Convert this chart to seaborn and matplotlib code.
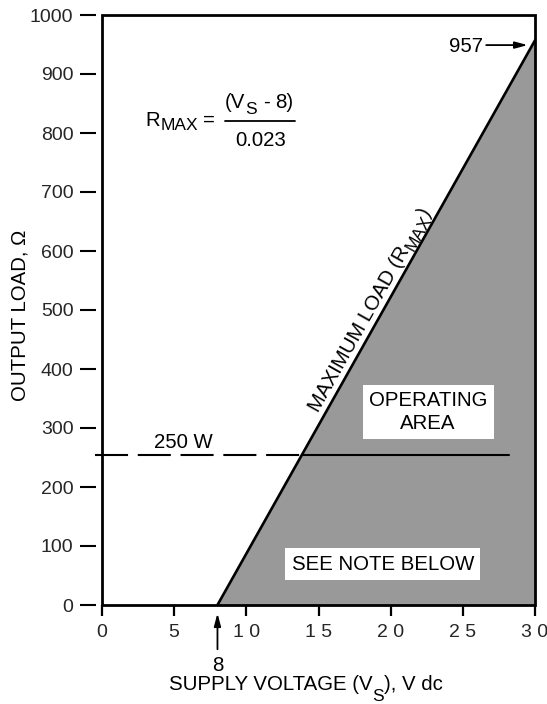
import math
import matplotlib
matplotlib.use("Agg")
import matplotlib.pyplot as plt
import matplotlib.transforms as mtransforms
from matplotlib.patches import Rectangle
from matplotlib.lines import Line2D
import pandas as pd
import seaborn as sns

# ---------------- data ----------------
supply_voltage = [8, 30]        # V dc, end points of the maximum-load line
max_load = [0, 957]             # ohm
power_level = 255               # level of the 250 W line (ohm axis)
power_line_x = [-0.5, 28.2]     # extent of the 250 W line (V)
x_ticks = [0, 5, 10, 15, 20, 25, 30]
x_tick_labels = ["0", "5", "1 0", "1 5", "2 0", "2 5", "3 0"]
y_ticks = [0, 100, 200, 300, 400, 500, 600, 700, 800, 900, 1000]
y_tick_labels = ["0", "100", "200", "300", "400", "500", "600", "700", "800", "900", "1000"]

# ---------------- style ----------------
sns.set_style("white")
plt.rcParams["font.family"] = ["Liberation Sans", "DejaVu Sans"]
plt.rcParams["lines.scale_dashes"] = False
plt.rcParams["text.color"] = "black"

FS = 14.7      # main text size
SUB = 12.5     # subscript size
W, H = 547, 704
fig = plt.figure(figsize=(W / 100, H / 100), dpi=100)
fig.patch.set_facecolor("white")
ax = fig.add_axes([102 / W, 1 - 605 / H, 433 / W, 590 / H])
ax.set_facecolor("white")

df = pd.DataFrame({"vs": supply_voltage, "r": max_load})
ax.fill_between(df["vs"], df["r"], 0, color="#999999", lw=0, zorder=1)
sns.lineplot(data=df, x="vs", y="r", color="black", lw=1.9, ax=ax, zorder=3)

ax.set_xlim(0, 30)
ax.set_ylim(0, 1000)
ax.set_xlabel("")
ax.set_ylabel("")

# 250 W line: dashed left of the max-load line, solid inside operating area
slope = (max_load[1] - max_load[0]) / (supply_voltage[1] - supply_voltage[0])
x_int = supply_voltage[0] + (power_level - max_load[0]) / slope
ax.plot([power_line_x[0], x_int], [power_level, power_level], color="black",
        lw=1.5, linestyle=(0, (23.8, 7.0)), clip_on=False, zorder=4)
ax.plot([x_int, power_line_x[1]], [power_level, power_level], color="black",
        lw=1.5, zorder=4)

# ticks
ax.set_xticks(x_ticks, x_tick_labels)
ax.set_yticks(y_ticks, y_tick_labels)
for s in ax.spines.values():
    s.set_visible(False)
ax.spines["left"].set_position(("outward", 4.3))
ax.tick_params(axis="y", direction="out", length=11.5, width=1.5, pad=4.8,
               labelsize=14, left=True, color="black")
ax.tick_params(axis="x", direction="out", length=8, width=1.6, pad=6,
               labelsize=14, bottom=True, color="black")
ax.add_patch(Rectangle((0, 0), 1, 1, transform=ax.transAxes, fill=False,
                       lw=2.0, ec="black", clip_on=False, zorder=6))

renderer = fig.canvas.get_renderer()
ident = mtransforms.IdentityTransform()


def text_width(s, fs):
    t = fig.text(0, 0, s, fontsize=fs)
    w = t.get_window_extent(renderer=renderer).width
    t.remove()
    return w


def px_text(x, y, s, fs, **kw):
    """x, y in pixels measured from the top-left corner of the figure."""
    return fig.text(x / W, 1 - y / H, s, fontsize=fs, va="baseline", **kw)


def rich(cx, cy, angle, pieces):
    """Centered run of text pieces (text, size, drop_px, gap_px) along a
    baseline through display point (cx, cy) at the given angle."""
    a = math.radians(angle)
    ux, uy = math.cos(a), math.sin(a)
    dx, dy = math.sin(a), -math.cos(a)          # 'down' perpendicular
    widths = [text_width(s, fs) + gap for s, fs, _, gap in pieces]
    total = sum(widths)
    adv = -total / 2
    for (s, fs, drop, gap), w in zip(pieces, widths):
        adv += gap
        x = cx + adv * ux + drop * dx
        y = cy + adv * uy + drop * dy
        fig.text(x, y, s, fontsize=fs, rotation=angle, rotation_mode="anchor",
                 ha="left", va="baseline", transform=ident)
        adv += w - gap


# 250 W label
ax.text(5.66, 265.6, "250 W", ha="center", va="baseline", fontsize=FS, zorder=5)

# R_MAX formula
px_text(145, 125.7, "R", FS)
px_text(161, 129.7, "MAX", SUB)
px_text(203, 125.7, "=", FS)
rich(258.7, H - 108, 0, [("(V", FS, 0, 0), ("S", SUB, 6, 1),
                         ("-", FS, 0, 6), ("8)", FS, 0, 5)])
fig.add_artist(Line2D([225 / W, 295 / W], [1 - 121.3 / H, 1 - 121.3 / H],
                      color="black", lw=1.3))
px_text(260.5, 146.3, "0.023", FS, ha="center")

# rotated MAXIMUM LOAD label
p0 = ax.transData.transform((supply_voltage[0], max_load[0]))
p1 = ax.transData.transform((supply_voltage[1], max_load[1]))
ang = math.degrees(math.atan2(p1[1] - p0[1], p1[0] - p0[0]))
off = 6
ya = 491
xa = supply_voltage[0] + ya / slope
pa = ax.transData.transform((xa, ya))
cx = pa[0] - off * math.sin(math.radians(ang))
cy = pa[1] + off * math.cos(math.radians(ang))
rich(cx, cy, ang, [("MAXIMUM LOAD (R", FS, 0, 0), ("MAX", SUB, 4, 0),
                   (")", FS, 0, 0)])

ax.text(22.6, 327, "OPERATING\nAREA", ha="center", va="center",
        multialignment="center", linespacing=1.3, fontsize=FS, zorder=5,
        bbox=dict(boxstyle="square,pad=0.3", fc="white", ec="none"))
ax.text(19.45, 60, "SEE NOTE BELOW", ha="center", va="baseline", fontsize=FS,
        zorder=5, bbox=dict(boxstyle="square,pad=0.3", fc="white", ec="none"))

arrow = dict(arrowstyle="-|>,head_length=0.75,head_width=0.2", color="black",
             lw=1.3, shrinkA=0, shrinkB=0)
ax.text(26.39, 937.8, str(max_load[1]), ha="right", va="baseline", fontsize=FS)
ax.annotate("", xy=(29.5, 949), xytext=(26.62, 949), arrowprops=arrow,
            annotation_clip=False)
ax.annotate("", xy=(supply_voltage[0], -14), xytext=(supply_voltage[0], -75),
            arrowprops=arrow, annotation_clip=False)
ax.text(supply_voltage[0], -111.4, str(supply_voltage[0]), ha="center",
        va="baseline", fontsize=FS, clip_on=False)

# axis titles
fig.text(20 / W, 1 - 315 / H, "OUTPUT LOAD, \u03A9", rotation=90, ha="center",
         va="center", fontsize=FS)
rich(306, H - 690, 0, [("SUPPLY VOLTAGE (V", FS, 0, 0), ("S", SUB, 11, 0),
                       ("), V dc", FS, 0, 0)])

fig.savefig("out.png", dpi=100)
